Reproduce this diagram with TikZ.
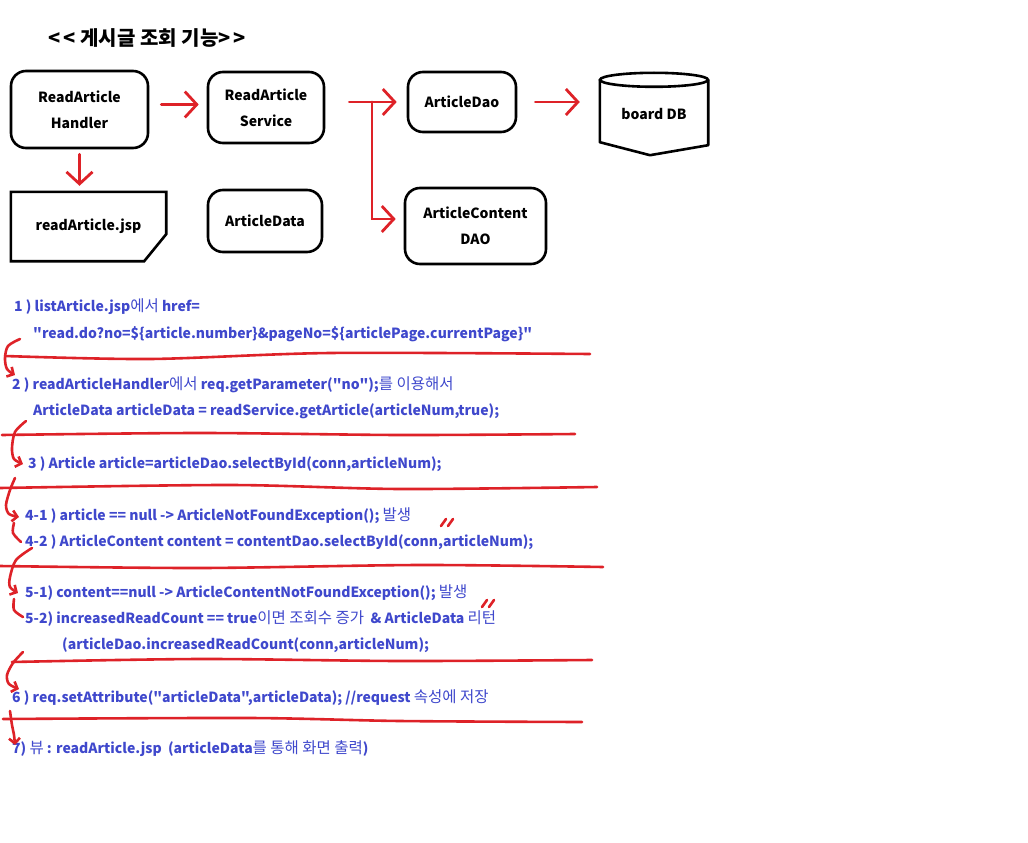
\documentclass[tikz,border=0pt]{standalone}
\usepackage{fontspec}
\newfontfamily\krfont{Noto Sans CJK KR}
\newcommand\hg[1]{{\mdseries\fontsize{15.5}{17}\selectfont #1}}
\usetikzlibrary{arrows.meta,positioning}
\definecolor{penred}{RGB}{222,34,40}
\definecolor{inkblue}{RGB}{63,72,204}
\begin{document}
\begin{tikzpicture}[x=1pt,y=-1pt,
    box/.style={draw,line width=2.6pt,rounded corners=15pt,align=center,inner sep=0pt,
      font=\krfont\bfseries\fontsize{14}{26}\selectfont},
    plain/.style={align=center,inner sep=0pt,font=\krfont\bfseries\fontsize{14}{26}\selectfont},
    flow/.style={draw=penred,line width=2.8pt,line cap=round,
      -{Straight Barb[length=12pt,width=26pt,line width=2.8pt]}},
    pen/.style={draw=penred,line width=2.6pt,line cap=round,line join=round},
    swirl/.style={pen,-{Straight Barb[length=5pt,width=11pt,line width=2.6pt]}},
    note/.style={anchor=west,inner sep=0pt,text=inkblue,
      font=\krfont\bfseries\fontsize{14}{17}\selectfont}]
    \useasboundingbox (0,0) rectangle (1028,843);
    \node[anchor=west,inner sep=0pt,font=\krfont\bfseries\fontsize{20}{22}\selectfont] (title) at (48,38) {<\,<\ 게시글\ 조회\ 기능>\,>};

    % components
    \node[box,minimum width=137pt,minimum height=77pt] (handler) at (79.5,109.5) {ReadArticle\\Handler};
    \node[box,minimum width=116pt,minimum height=71pt] (service) at (266,107.5) {ReadArticle\\Service};
    \node[box,minimum width=108pt,minimum height=60pt] (dao) at (462,102) {ArticleDao};
    \node[box,minimum width=141pt,minimum height=76pt] (content) at (475.5,226) {ArticleContent\\DAO};
    \node[box,minimum width=114pt,minimum height=62pt] (data) at (265,221) {ArticleData};
    \node[plain,minimum width=155pt,minimum height=69pt] (jsp) at (88.5,226.5) {readArticle.jsp};
    \draw[line width=2.6pt] (jsp.north west) -- (jsp.north east) -- ([yshift=27pt]jsp.south east)
        -- ([xshift=-22pt]jsp.south east) -- (jsp.south west) -- cycle;
    \node[plain,minimum width=108pt,minimum height=82pt] (db) at (654,114) {board DB};
    \draw[line width=2.6pt] ([yshift=-7pt]db.north) ellipse [x radius=54pt,y radius=7pt];
    \draw[line width=2.6pt,line join=round] ([yshift=-7pt]db.north west) -- ([yshift=13pt]db.south west)
        -- ([xshift=-4pt]db.south) -- ([yshift=10pt]db.south east) -- ([yshift=-7pt]db.north east);

    % calls
    \coordinate (split) at (372,102);
    \draw[flow,shorten <=12pt,shorten >=8pt] ([yshift=5pt]handler.east) -- ([yshift=5pt]handler.east -| service.west);
    \draw[flow,shorten <=5pt,shorten >=6pt] (handler.south) -- (handler.south |- jsp.north);
    \draw[flow,shorten <=24pt,shorten >=10pt] (service.east |- dao.west) -- (dao.west);
    \draw[flow,shorten >=8pt] (split) |- ([yshift=7pt]content.west);
    \draw[flow,shorten <=18pt,shorten >=20pt] (dao.east) -- (dao.east -| db.west);

    % steps
    \node[note] (s1) at (14,307) {1 ) listArticle.jsp\hg{에서} href=};
    \node[note] (s1b) at (33,334) {"read.do?no=\$\{article.number\}\&pageNo=\$\{articlePage.currentPage\}"};
    \node[note] (s2) at (12,385) {2 ) readArticleHandler\hg{에서} req.getParameter("no");\hg{를 이용해서}};
    \node[note] (s2b) at (33,411) {ArticleData articleData = readService.getArticle(articleNum,true);};
    \node[note] (s3) at (28,464) {3 ) Article article=articleDao.selectById(conn,articleNum);};
    \node[note] (s41) at (25,516) {4-1 ) article == null -> ArticleNotFoundException(); \hg{발생}};
    \node[note] (s42) at (25,542) {4-2 ) ArticleContent content = contentDao.selectById(conn,articleNum);};
    \node[note] (s51) at (25,593) {5-1) content==null -> ArticleContentNotFoundException(); \hg{발생}};
    \node[note] (s52) at (25,619) {5-2) increasedReadCount == true\hg{이면 조회수 증가}\ \ \& ArticleData \hg{리턴}};
    \node[note] (s52b) at (62,645) {(articleDao.increasedReadCount(conn,articleNum);};
    \node[note] (s6) at (12,698) {6 ) req.setAttribute("articleData",articleData); //request \hg{속성에 저장}};
    \node[note] (s7) at (12,749) {7) \hg{뷰} : readArticle.jsp\ \ (articleData\hg{를 통해 화면 출력})};

    % pen strokes
    \draw[pen] plot[smooth] coordinates {(5,356) (150,359) (330,353) (590,354)};
    \draw[pen] plot[smooth] coordinates {(2,435) (200,433) (400,435) (575,434)};
    \draw[pen] plot[smooth] coordinates {(0,488) (230,485) (400,489) (597,487)};
    \draw[pen] plot[smooth] coordinates {(0,566) (200,568) (420,565) (603,567)};
    \draw[pen] plot[smooth] coordinates {(12,662) (200,659) (400,661) (592,660)};
    \draw[pen] plot[smooth] coordinates {(3,719) (250,718) (400,721) (582,722)};
    \draw[swirl] plot[smooth] coordinates {(20,339) (8,346) (5,358) (7,369) (15,375)};
    \draw[swirl] plot[smooth] coordinates {(26,421) (15,432) (12,448) (14,459) (23,464)};
    \draw[swirl] plot[smooth] coordinates {(15,478) (10,490) (6,505) (9,514) (19,517)};
    \draw[pen] plot[smooth] coordinates {(14,523) (13,533) (21,542)};
    \draw[swirl] plot[smooth] coordinates {(32,548) (16,560) (10,577) (10,587) (18,593)};
    \draw[pen] plot[smooth] coordinates {(14,599) (14,610) (23,617)};
    \draw[swirl] plot[smooth] coordinates {(23,652) (13,663) (7,675) (9,684) (19,689)};
    \draw[swirl] plot[smooth] coordinates {(10,711) (12,725) (14,735) (15,745)};
    \draw[pen] (441,526) -- (446,519) (448,526) -- (453,519);
    \draw[pen] (482,607) -- (487,600) (489,607) -- (494,600);
\end{tikzpicture}
\end{document}
